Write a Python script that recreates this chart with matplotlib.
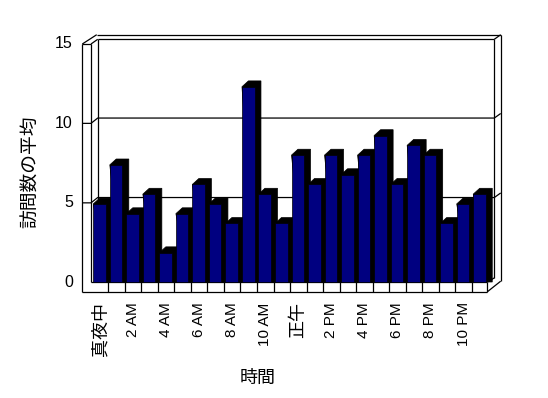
import numpy as np
import matplotlib
matplotlib.use('Agg')
import matplotlib.pyplot as plt
from matplotlib.patches import Polygon

# Data (average visits per hour)
hours = ['真夜中', '1 AM', '2 AM', '3 AM', '4 AM', '5 AM', '6 AM', '7 AM', '8 AM', '9 AM',
         '10 AM', '11 AM', '正午', '1 PM', '2 PM', '3 PM', '4 PM', '5 PM', '6 PM', '7 PM',
         '8 PM', '9 PM', '10 PM', '11 PM']
avg_visits = [4.8, 7.2, 4.2, 5.4, 1.8, 4.2, 6.0, 4.8, 3.6, 12.0, 5.4, 3.6,
              7.8, 6.0, 7.8, 6.6, 7.8, 9.0, 6.0, 8.4, 7.8, 3.6, 4.8, 5.4]
y_ticks = [0, 5, 10, 15]
x_label = '時間'
y_label = '訪問数の平均'

BAR_COLOR = '#000080'
LATIN = ['Liberation Sans', 'Noto Sans CJK JP']
CJK = ['Noto Sans CJK JP', 'DejaVu Sans']

# fake 3d geometry (data units: one category wide, one visit high)
BAR_START = 0.09
BAR_W = 0.76
DX, DY = 0.39, 0.36          # depth of each column
WALL_L_OUT, WALL_L_IN = -0.575, -0.048
BACK_L, BACK_R, BACK_R_OUT = 0.357, 24.364, 24.752
FLOOR_R, FLOOR_BOT = 23.95, -0.596
TOP_FRONT, TOP_BACK, TOP_OUT = 14.628, 14.917, 15.2


def front_y(v):
    return 0.977 * v - 0.02


def back_y(v):
    return 0.977 * v + 0.307


fig = plt.figure(figsize=(5.48, 3.98), dpi=100)
ax = fig.add_axes([0, 0, 1, 1])
ax.set_xlim(-91.8 / 16.52, (548 - 91.8) / 16.52)
ax.set_ylim((282 - 398) / 16.27, 282 / 16.27)
ax.axis('off')

lw = 0.9
kw = dict(color='black', lw=lw, zorder=1, solid_capstyle='butt')

# walls and floor outline
ax.plot([WALL_L_OUT, WALL_L_OUT], [FLOOR_BOT, TOP_FRONT], **kw)
ax.plot([WALL_L_IN, WALL_L_IN], [0, TOP_FRONT], **kw)
ax.plot([WALL_L_OUT, WALL_L_IN], [TOP_FRONT, TOP_FRONT], **kw)
ax.plot([WALL_L_OUT, 0.297], [TOP_FRONT, TOP_OUT], **kw)
ax.plot([WALL_L_IN, BACK_L], [TOP_FRONT, TOP_BACK], **kw)
ax.plot([BACK_L, BACK_L], [back_y(0), TOP_BACK], **kw)
ax.plot([BACK_L, BACK_R], [TOP_BACK, TOP_BACK], **kw)
ax.plot([0.297, BACK_R_OUT], [TOP_OUT, TOP_OUT], **kw)
ax.plot([BACK_R, BACK_R_OUT], [TOP_BACK, TOP_OUT], **kw)
ax.plot([BACK_R, BACK_R], [0.25, TOP_BACK], **kw)
ax.plot([BACK_R_OUT, BACK_R_OUT], [0.05, TOP_OUT], **kw)

# floor
ax.plot([WALL_L_OUT, FLOOR_R], [FLOOR_BOT, FLOOR_BOT], **kw)
ax.plot([WALL_L_IN, FLOOR_R], [0, 0], **kw)
ax.plot([FLOOR_R, FLOOR_R], [FLOOR_BOT, 0], **kw)
ax.plot([FLOOR_R, BACK_R_OUT], [FLOOR_BOT, 0.05], **kw)
ax.plot([FLOOR_R, BACK_R], [0, 0.25], **kw)
for i in range(1, len(hours)):
    ax.plot([i, i], [FLOOR_BOT, 0], **kw)

# gridlines
for v in y_ticks[1:-1]:
    yf, yb = front_y(v), back_y(v)
    ax.plot([WALL_L_OUT, WALL_L_IN, BACK_L, BACK_R, BACK_R_OUT],
            [yf, yf, yb, yb, yb + 0.28], **kw)

# columns: black depth faces first, then the navy fronts
x = np.arange(len(hours))
for xi, v in zip(x, avg_visits):
    x0, x1 = xi + BAR_START, xi + BAR_START + BAR_W
    side = Polygon([(x0, v), (x0 + DX, v + DY), (x1 + DX, v + DY), (x1 + DX, 0), (x1, 0)],
                   closed=True, facecolor='black', edgecolor='black', lw=0.5, zorder=2)
    ax.add_patch(side)
ax.bar(x + BAR_START, avg_visits, width=BAR_W, align='edge', color=BAR_COLOR,
       edgecolor='black', linewidth=0.5, zorder=3)

# tick labels
for v in y_ticks:
    ax.text(-1.15, front_y(v), str(v), ha='right', va='center', fontsize=11.5, family=LATIN)
for i in range(0, len(hours), 2):
    lab = hours[i]
    is_cjk = not lab[0].isascii()
    ax.text(i + 0.5, -1.25, lab, rotation=90, ha='center', va='top',
            fontsize=13 if is_cjk else 11, family=CJK if is_cjk else LATIN)

ax.text(10.06, -5.9, x_label, ha='center', va='center', fontsize=13, family=CJK)
ax.text(-3.7, 6.76, y_label, ha='center', va='center', rotation=90, fontsize=13.5, family=CJK)

fig.savefig('out.png', dpi=100)
